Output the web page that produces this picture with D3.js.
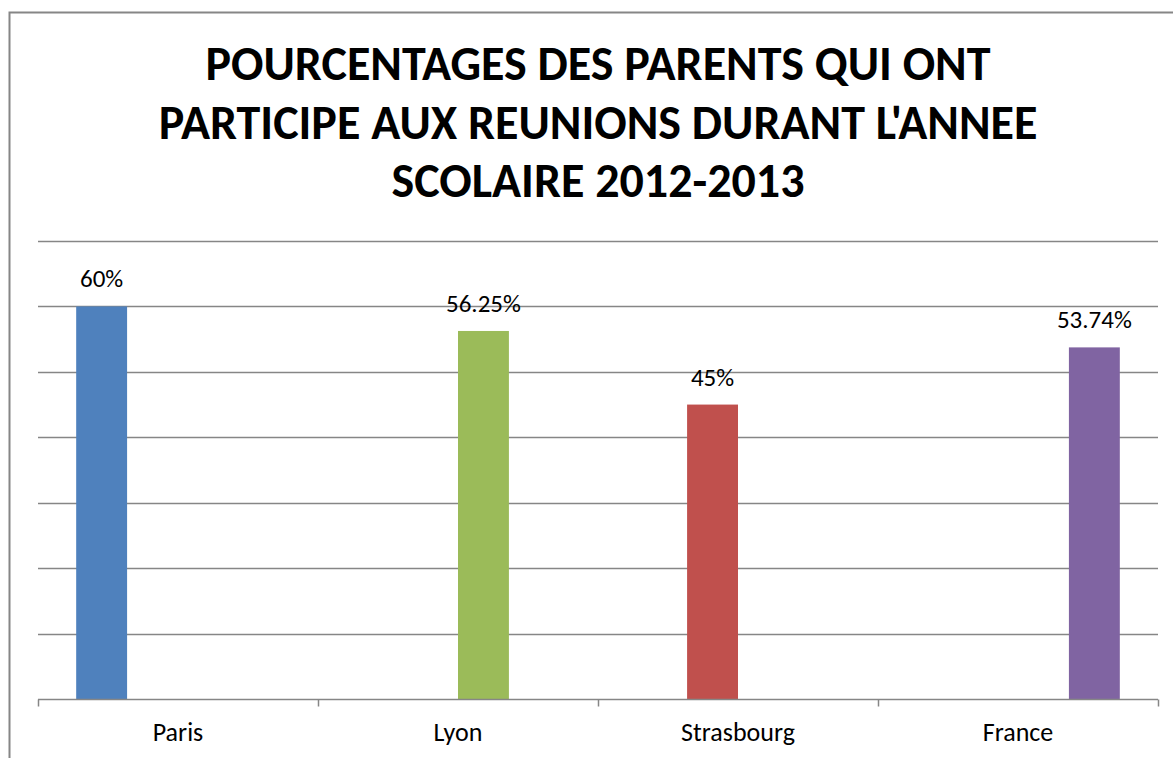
<!DOCTYPE html>
<html><head><meta charset="utf-8">
<script src="https://cdn.jsdelivr.net/npm/d3@7"></script>
<style>body{margin:0;background:#fff}svg{display:block}</style>
</head><body>
<script>
const categories = ["Paris", "Lyon", "Strasbourg", "France"];
const seriesNames = ["Paris", "Strasbourg", "Lyon", "France"];
const seriesOfCategory = ["Paris", "Lyon", "Strasbourg", "France"];
const values = [60, 56.25, 45, 53.74];
const valueLabels = ["60%", "56.25%", "45%", "53.74%"];
const colors = ["#4F81BD", "#9BBB59", "#C0504D", "#8064A2"];
const yTicks = [0, 10, 20, 30, 40, 50, 60, 70];
const titleLines = ["POURCENTAGES DES PARENTS QUI ONT", "PARTICIPE AUX REUNIONS DURANT L'ANNEE", "SCOLAIRE 2012-2013"];

const W = 1173, H = 758;
const svg = d3.select("body").append("svg").attr("width", W).attr("height", H);
const font = "Carlito, Calibri, Lato, sans-serif";

svg.append("rect").attr("x", 9.5).attr("y", 12.5).attr("width", W + 20).attr("height", H + 20)
  .attr("fill", "#fff").attr("stroke", "#868686").attr("stroke-width", 2);

const x0 = d3.scaleBand().domain(categories).range([38, 1158]).paddingInner(0).paddingOuter(0);
const x1 = d3.scaleBand().domain(seriesNames).range([0, x0.bandwidth()]).paddingInner(0).paddingOuter(0.75);
const y = d3.scaleLinear().domain([0, 70]).range([699, 241]);

// gridlines
svg.append("g").selectAll("line").data(yTicks.filter(d => d > 0)).join("line")
  .attr("x1", 38).attr("x2", 1158)
  .attr("y1", d => Math.round(y(d)) + 0.5).attr("y2", d => Math.round(y(d)) + 0.5)
  .attr("stroke", "#868686").attr("stroke-width", 1.5);

const barX = (c, i) => x0(c) + x1(seriesOfCategory[i]);

// bars
svg.append("g").selectAll("rect").data(categories).join("rect")
  .attr("x", barX)
  .attr("width", x1.bandwidth())
  .attr("y", (c, i) => y(values[i]))
  .attr("height", (c, i) => y(0) - y(values[i]))
  .attr("fill", (c, i) => colors[i]);

// data labels
svg.append("g").selectAll("text").data(categories).join("text")
  .attr("x", (c, i) => barX(c, i) + x1.bandwidth() / 2)
  .attr("y", (c, i) => y(values[i]) - 19)
  .attr("text-anchor", "middle")
  .attr("font-family", font).attr("font-size", 25).attr("fill", "#000")
  .text((c, i) => valueLabels[i]);

// x axis
const gx = svg.append("g").attr("transform", "translate(0,699.5)");
gx.append("line").attr("x1", 38).attr("x2", 1158).attr("stroke", "#868686").attr("stroke-width", 1.5);
gx.selectAll("line.tk").data([...categories.map(c => x0(c)), 1158]).join("line").attr("class", "tk")
  .attr("x1", d => d + 0.5).attr("x2", d => d + 0.5).attr("y1", 0).attr("y2", 7)
  .attr("stroke", "#868686").attr("stroke-width", 1.5);
gx.selectAll("text").data(categories).join("text")
  .attr("x", c => x0(c) + x0.bandwidth() / 2).attr("y", 41)
  .attr("text-anchor", "middle")
  .attr("font-family", font).attr("font-size", 26).attr("fill", "#000")
  .text(c => c);

// title
const titleY = [80, 139, 197];
svg.append("g").selectAll("text").data(titleLines).join("text")
  .attr("x", 598).attr("y", (d, i) => titleY[i])
  .attr("text-anchor", "middle")
  .attr("font-family", font).attr("font-weight", "bold").attr("font-size", 48).attr("fill", "#000")
  .text(d => d);
</script>
</body></html>
